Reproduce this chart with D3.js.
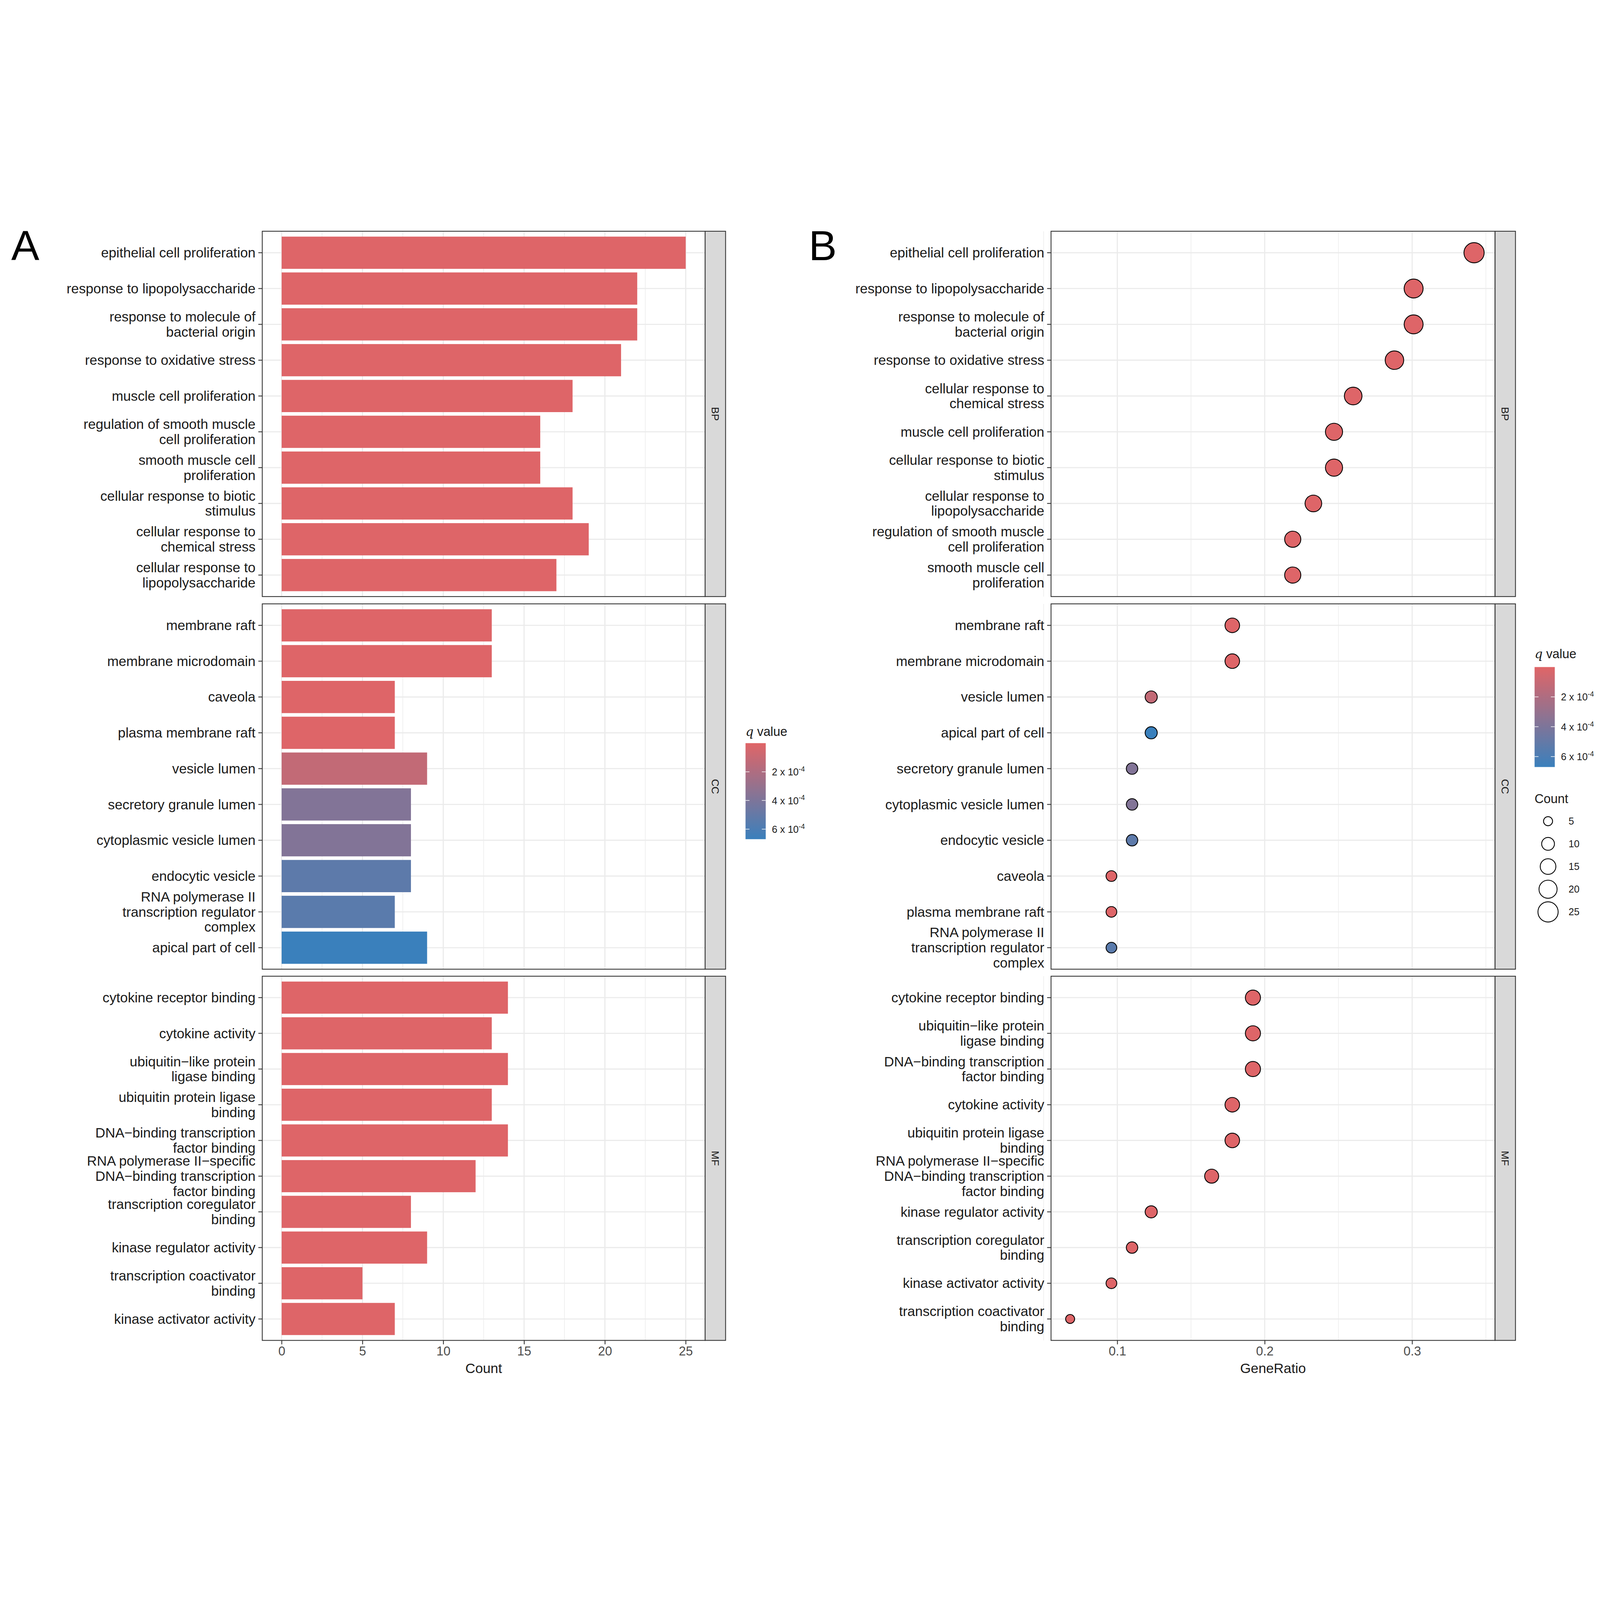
<!DOCTYPE html>
<html><head><meta charset="utf-8">
<script src="https://cdn.jsdelivr.net/npm/d3@7"></script>
<style>html,body{margin:0;padding:0;width:100%;height:100%;overflow:hidden;background:#fff}svg{display:block}text{font-family:"Liberation Sans",Arial,sans-serif}</style>
</head><body>
<script>
// ---- data ----
var ontologies = ["BP", "CC", "MF"];

// panel A: bar chart, top to bottom
var barTermsBP = ["epithelial cell proliferation","response to lipopolysaccharide","response to molecule of\nbacterial origin","response to oxidative stress","muscle cell proliferation","regulation of smooth muscle\ncell proliferation","smooth muscle cell\nproliferation","cellular response to biotic\nstimulus","cellular response to\nchemical stress","cellular response to\nlipopolysaccharide"];
var barCountBP = [25,22,22,21,18,16,16,18,19,17];
var barQBP = [1e-5,1e-5,1e-5,1e-5,1e-5,1e-5,1e-5,1e-5,1e-5,1e-5];
var barTermsCC = ["membrane raft","membrane microdomain","caveola","plasma membrane raft","vesicle lumen","secretory granule lumen","cytoplasmic vesicle lumen","endocytic vesicle","RNA polymerase II\ntranscription regulator\ncomplex","apical part of cell"];
var barCountCC = [13,13,7,7,9,8,8,8,7,9];
var barQCC = [1e-5,1e-5,1e-5,1e-5,1.2e-4,3.8e-4,3.8e-4,5.3e-4,5.4e-4,6.7e-4];
var barTermsMF = ["cytokine receptor binding","cytokine activity","ubiquitin\u2212like protein\nligase binding","ubiquitin protein ligase\nbinding","DNA\u2212binding transcription\nfactor binding","RNA polymerase II\u2212specific\nDNA\u2212binding transcription\nfactor binding","transcription coregulator\nbinding","kinase regulator activity","transcription coactivator\nbinding","kinase activator activity"];
var barCountMF = [14,13,14,13,14,12,8,9,5,7];
var barQMF = [1e-5,1e-5,1e-5,1e-5,1e-5,1e-5,1e-5,1e-5,1e-5,1e-5];

// panel B: dot chart, top to bottom
var dotTermsBP = ["epithelial cell proliferation","response to lipopolysaccharide","response to molecule of\nbacterial origin","response to oxidative stress","cellular response to\nchemical stress","muscle cell proliferation","cellular response to biotic\nstimulus","cellular response to\nlipopolysaccharide","regulation of smooth muscle\ncell proliferation","smooth muscle cell\nproliferation"];
var dotRatioBP = [0.342,0.301,0.301,0.288,0.260,0.247,0.247,0.233,0.219,0.219];
var dotCountBP = [25,22,22,21,19,18,18,17,16,16];
var dotQBP = [1e-5,1e-5,1e-5,1e-5,1e-5,1e-5,1e-5,1e-5,1e-5,1e-5];
var dotTermsCC = ["membrane raft","membrane microdomain","vesicle lumen","apical part of cell","secretory granule lumen","cytoplasmic vesicle lumen","endocytic vesicle","caveola","plasma membrane raft","RNA polymerase II\ntranscription regulator\ncomplex"];
var dotRatioCC = [0.178,0.178,0.123,0.123,0.110,0.110,0.110,0.096,0.096,0.096];
var dotCountCC = [13,13,9,9,8,8,8,7,7,7];
var dotQCC = [1e-5,1e-5,1.2e-4,6.7e-4,3.8e-4,3.8e-4,5.3e-4,1e-5,1e-5,5.4e-4];
var dotTermsMF = ["cytokine receptor binding","ubiquitin\u2212like protein\nligase binding","DNA\u2212binding transcription\nfactor binding","cytokine activity","ubiquitin protein ligase\nbinding","RNA polymerase II\u2212specific\nDNA\u2212binding transcription\nfactor binding","kinase regulator activity","transcription coregulator\nbinding","kinase activator activity","transcription coactivator\nbinding"];
var dotRatioMF = [0.192,0.192,0.192,0.178,0.178,0.164,0.123,0.110,0.096,0.068];
var dotCountMF = [14,14,14,13,13,12,9,8,7,5];
var dotQMF = [1e-5,1e-5,1e-5,1e-5,1e-5,1e-5,1e-5,1e-5,1e-5,1e-5];

var qTicks = [2e-4, 4e-4, 6e-4];
var sizeTicks = [5, 10, 15, 20, 25];
var countTicks = [0, 5, 10, 15, 20, 25];
var ratioTicks = [0.1, 0.2, 0.3];

// ---- layout ----
var W = 5698, H = 4145;
var svg = d3.select("body").append("svg").attr("viewBox", "0 0 " + W + " " + H)
  .attr("width", "100%").attr("height", "100%").attr("preserveAspectRatio", "xMidYMid meet");
var facetY = [[47,1348],[1374,2675],[2700,3997]];
var color = d3.scaleLinear().domain([0, 6.7e-4]).range(["#E06567", "#3A80BC"]).interpolate(d3.interpolateRgb).clamp(true);
var rScale = d3.scaleSqrt().domain([0, 25]).range([0, 36]);
var grid = "#EBEBEB", fs = 49;

function facetBands(f, n) {
  return d3.scaleLinear().domain([0.4, n + 0.6]).range([facetY[f][0], facetY[f][1]]);
}

function yLabels(g, x, y, terms) {
  terms.forEach(function(t, i) {
    var lines = t.split("\n"), cy = y(i + 1);
    var txt = g.append("text").attr("text-anchor", "end").attr("font-size", fs).attr("fill", "#1a1a1a");
    lines.forEach(function(l, k) {
      txt.append("tspan").attr("x", x - 24).attr("y", cy + (k - (lines.length - 1) / 2) * 54 + 17).text(l);
    });
    g.append("line").attr("x1", x - 14).attr("x2", x).attr("y1", cy).attr("y2", cy).attr("stroke", "#333").attr("stroke-width", 3);
  });
}

function panel(x0, x1, xs, ticks, minor, f, n, ontology) {
  var g = svg.append("g");
  var y = facetBands(f, n);
  var top = facetY[f][0], bot = facetY[f][1];
  minor.forEach(function(v) { g.append("line").attr("x1", xs(v)).attr("x2", xs(v)).attr("y1", top).attr("y2", bot).attr("stroke", grid).attr("stroke-width", 2); });
  ticks.forEach(function(v) { g.append("line").attr("x1", xs(v)).attr("x2", xs(v)).attr("y1", top).attr("y2", bot).attr("stroke", grid).attr("stroke-width", 4); });
  d3.range(1, n + 1).forEach(function(i) { g.append("line").attr("x1", x0).attr("x2", x1).attr("y1", y(i)).attr("y2", y(i)).attr("stroke", grid).attr("stroke-width", 4); });
  svg.append("rect").attr("x", x1).attr("y", top).attr("width", 73).attr("height", bot - top).attr("fill", "#D9D9D9").attr("stroke", "#333").attr("stroke-width", 3);
  svg.append("text").attr("transform", "translate(" + (x1 + 36) + "," + ((top + bot) / 2) + ") rotate(90)").attr("text-anchor", "middle").attr("dy", "0.35em").attr("font-size", 37).attr("fill", "#1a1a1a").text(ontology);
  return {g: g, y: y, top: top, bot: bot};
}

function border(x0, x1, p) {
  svg.append("rect").attr("x", x0).attr("y", p.top).attr("width", x1 - x0).attr("height", p.bot - p.top).attr("fill", "none").attr("stroke", "#333").attr("stroke-width", 3);
}

function xAxis(xs, ticks, fmt, x0, x1, title) {
  var g = svg.append("g").attr("transform", "translate(0," + facetY[2][1] + ")");
  g.call(d3.axisBottom(xs).tickValues(ticks).tickFormat(fmt).tickSize(14).tickPadding(8));
  g.select(".domain").remove();
  g.selectAll(".tick line").attr("stroke", "#333").attr("stroke-width", 3);
  g.selectAll(".tick text").attr("font-size", 45).attr("fill", "#4D4D4D").attr("font-family", "Liberation Sans, Arial, sans-serif");
  svg.append("text").attr("x", (x0 + x1) / 2).attr("y", 4113).attr("text-anchor", "middle").attr("font-size", 49).attr("fill", "#1a1a1a").text(title);
}

function qLegend(x, y0, y1, titleY) {
  var t = svg.append("text").attr("x", x).attr("y", titleY).attr("font-size", 45).attr("fill", "#1a1a1a");
  t.append("tspan").attr("font-family", "DejaVu Serif, serif").attr("font-style", "italic").text("q");
  t.append("tspan").text(" value");
  var id = "grad" + Math.round(x);
  var lg = svg.append("defs").append("linearGradient").attr("id", id).attr("x1", 0).attr("x2", 0).attr("y1", 0).attr("y2", 1);
  d3.range(0, 1.01, 0.1).forEach(function(s) { lg.append("stop").attr("offset", s).attr("stop-color", color(s * 6.7e-4)); });
  svg.append("rect").attr("x", x).attr("y", y0).attr("width", 72).attr("height", y1 - y0).attr("fill", "url(#" + id + ")");
  var qy = d3.scaleLinear().domain([0, 6.7e-4]).range([y0, y1]);
  qTicks.forEach(function(v) {
    var yy = qy(v);
    svg.append("line").attr("x1", x).attr("x2", x + 14).attr("y1", yy).attr("y2", yy).attr("stroke", "#fff").attr("stroke-width", 2);
    svg.append("line").attr("x1", x + 58).attr("x2", x + 72).attr("y1", yy).attr("y2", yy).attr("stroke", "#fff").attr("stroke-width", 2);
    var lt = svg.append("text").attr("x", x + 94).attr("y", yy + 13).attr("font-size", 35).attr("fill", "#1a1a1a");
    lt.append("tspan").text(Math.round(v * 1e4) + " x 10");
    lt.append("tspan").attr("dy", -14).attr("font-size", 25).text("-4");
  });
}

// ---- panel A ----
var ax0 = 934, ax1 = 2511;
var xA = d3.scaleLinear().domain([0, 25]).range([1003, 2442]);
var barSets = [[barTermsBP, barCountBP, barQBP], [barTermsCC, barCountCC, barQCC], [barTermsMF, barCountMF, barQMF]];
barSets.forEach(function(s, f) {
  var p = panel(ax0, ax1, xA, countTicks, [2.5, 7.5, 12.5, 17.5, 22.5], f, s[0].length, ontologies[f]);
  var half = p.y(1.45) - p.y(1);
  p.g.selectAll("rect.bar").data(s[1]).enter().append("rect")
    .attr("x", xA(0)).attr("y", function(d, i) { return p.y(i + 1) - half; })
    .attr("width", function(d) { return xA(d) - xA(0); })
    .attr("height", 2 * half)
    .attr("fill", function(d, i) { return color(s[2][i]); });
  border(ax0, ax1, p);
  yLabels(svg.append("g"), ax0, p.y, s[0]);
});
xAxis(xA, countTicks, d3.format("d"), ax0, ax1, "Count");
qLegend(2655, 1870, 2212, 1845);

// ---- panel B ----
var bx0 = 3743, bx1 = 5324;
var xB = d3.scaleLinear().domain([0.1, 0.3]).range([3979, 5029]);
var dotSets = [[dotTermsBP, dotRatioBP, dotCountBP, dotQBP], [dotTermsCC, dotRatioCC, dotCountCC, dotQCC], [dotTermsMF, dotRatioMF, dotCountMF, dotQMF]];
dotSets.forEach(function(s, f) {
  var p = panel(bx0, bx1, xB, ratioTicks, [0.05, 0.15, 0.25, 0.35], f, s[0].length, ontologies[f]);
  p.g.selectAll("circle").data(s[1]).enter().append("circle")
    .attr("cx", function(d) { return xB(d); }).attr("cy", function(d, i) { return p.y(i + 1); })
    .attr("r", function(d, i) { return rScale(s[2][i]); })
    .attr("fill", function(d, i) { return color(s[3][i]); })
    .attr("stroke", "#000").attr("stroke-width", 3);
  border(bx0, bx1, p);
  yLabels(svg.append("g"), bx0, p.y, s[0]);
});
xAxis(xB, ratioTicks, d3.format(".1f"), bx0, bx1, "GeneRatio");
qLegend(5465, 1599, 1955, 1567);

// size legend
svg.append("text").attr("x", 5465).attr("y", 2083).attr("font-size", 45).attr("fill", "#1a1a1a").text("Count");
var sizeY = d3.scalePoint().domain(sizeTicks).range([2148, 2471]);
sizeTicks.forEach(function(v) {
  svg.append("circle").attr("cx", 5513).attr("cy", sizeY(v)).attr("r", rScale(v)).attr("fill", "none").attr("stroke", "#000").attr("stroke-width", 3);
  svg.append("text").attr("x", 5586).attr("y", sizeY(v) + 12).attr("font-size", 35).attr("fill", "#1a1a1a").text(v);
});

// panel letters
svg.append("text").attr("x", 40).attr("y", 150).attr("font-size", 150).text("A");
svg.append("text").attr("x", 2880).attr("y", 150).attr("font-size", 150).text("B");
</script>
</body></html>
